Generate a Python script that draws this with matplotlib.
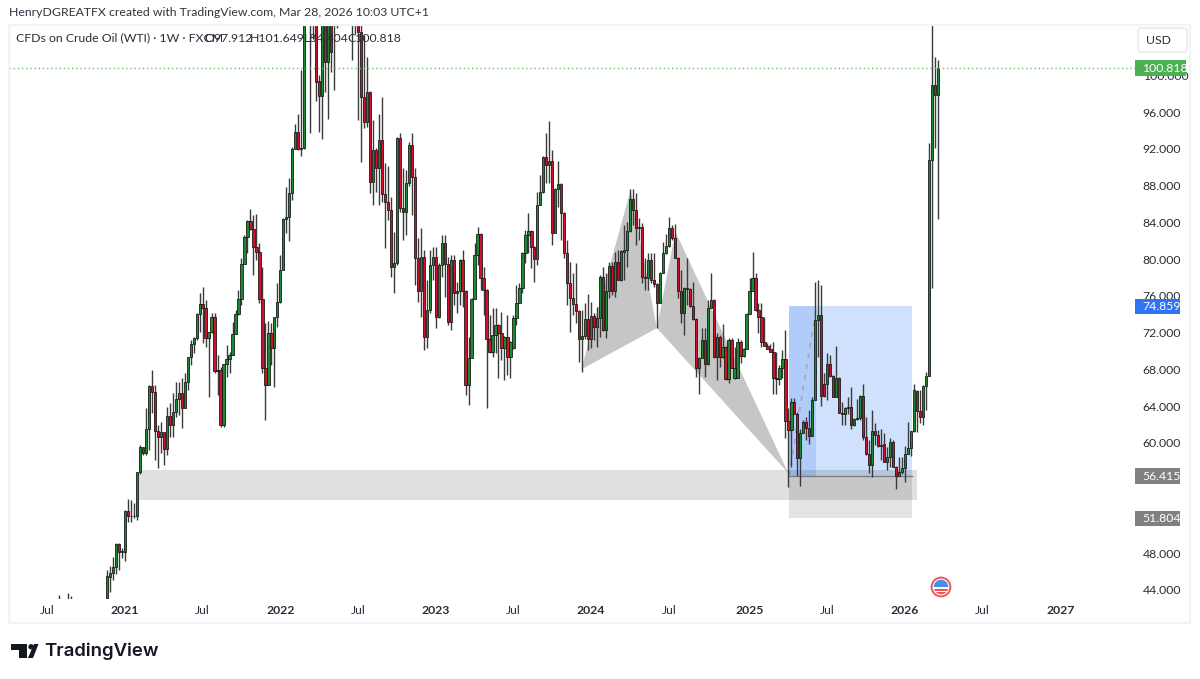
"""CFDs on Crude Oil (WTI) weekly candles, TradingView snapshot look."""
import matplotlib

matplotlib.use("Agg")
import matplotlib.pyplot as plt
import numpy as np
from matplotlib.patches import Circle, FancyBboxPatch, Polygon, Rectangle

plt.rcParams["font.family"] = ["Lato", "DejaVu Sans"]

# weekly candles, first one is the week of 2020-11-23. Values above the
# top of the pane (2022 spike) are only rough, they get clipped anyway.
opens = [
    43.1, 45.4, 45.9, 46.5, 49.0, 48.1, 48.1, 52.6, 52.0, 52.1,
    52.0, 56.8, 59.6, 58.9, 61.5, 66.2, 65.5, 61.3, 60.6, 61.2,
    59.3, 62.9, 61.9, 63.4, 64.8, 65.4, 63.8, 66.6, 69.4, 70.8,
    71.4, 74.0, 75.1, 74.7, 71.4, 72.1, 73.7, 67.9, 67.9, 61.9,
    68.6, 69.1, 69.6, 71.9, 74.0, 75.7, 79.5, 82.4, 84.2, 83.3,
    81.3, 80.8, 75.7, 68.2, 66.3, 72.0, 70.3, 73.7, 75.3, 78.8,
    84.4, 84.6, 87.2, 92.0, 93.8, 92.0, 92.1, 108, 125, 118,
    110, 99.4, 97.8, 108, 101.5, 107, 112, 112, 112, 118,
    114, 110, 115, 110, 108, 104.7, 97.6, 94.9, 98.2, 88.4,
    91.9, 89.9, 93.0, 87.1, 86.2, 85.4, 79.1, 79.6, 93.2, 85.6,
    85.1, 88.3, 92.4, 88.9, 80.1, 76.5, 80.2, 71.5, 74.5, 79.4,
    80.2, 73.7, 79.4, 81.8, 79.5, 73.2, 79.9, 76.5, 76.5, 79.9,
    76.5, 66.3, 69.2, 75.7, 80.5, 82.7, 78.0, 76.6, 71.3, 69.9,
    71.8, 72.8, 72.0, 70.3, 71.5, 69.4, 70.3, 73.6, 75.2, 76.9,
    80.7, 82.6, 83.1, 81.3, 80.0, 85.9, 87.3, 91.1, 90.2, 90.7,
    82.8, 87.6, 88.2, 85.0, 80.7, 77.4, 75.8, 75.1, 74.4, 71.3,
    71.6, 73.5, 71.3, 73.8, 72.6, 73.6, 78.1, 72.3, 76.5, 79.3,
    76.5, 79.7, 77.7, 80.8, 81.0, 83.1, 86.6, 85.4, 83.4, 83.5,
    78.1, 78.0, 79.9, 77.7, 77.3, 75.2, 78.5, 80.7, 81.4, 83.4,
    82.3, 80.1, 76.5, 74.1, 76.9, 76.7, 74.9, 73.5, 68.2, 69.2,
    71.2, 68.6, 74.7, 75.6, 69.4, 71.5, 69.4, 70.4, 67.0, 71.2,
    67.1, 67.1, 71.0, 69.5, 70.2, 74.0, 76.5, 77.9, 74.5, 73.7,
    71.0, 70.6, 70.2, 69.9, 67.1, 67.0, 68.2, 69.1, 62.4, 61.4,
    64.5, 63.2, 58.4, 61.1, 62.3, 61.6, 60.8, 64.7, 73.4, 73.9,
    66.4, 66.4, 68.6, 67.3, 65.0, 67.1, 63.3, 63.2, 63.8, 63.9,
    61.9, 62.6, 62.7, 65.1, 60.6, 58.8, 57.6, 61.3, 60.9, 59.8,
    59.9, 57.9, 58.5, 60.1, 57.4, 56.4, 56.8, 57.3, 58.8, 59.4,
    61.3, 65.7, 63.5, 62.8, 66.2, 67.3, 90.8, 99.0, 97.912,
]
closes = [
    45.5, 45.9, 46.5, 49.0, 48.1, 48.2, 52.6, 52.1, 52.1, 52.0,
    56.8, 59.6, 58.9, 61.5, 66.2, 65.5, 61.3, 60.6, 61.2, 59.3,
    62.9, 61.9, 63.4, 64.8, 65.4, 63.8, 66.6, 69.4, 70.8, 71.4,
    74.0, 75.1, 74.7, 71.4, 72.1, 73.7, 67.8, 67.8, 61.9, 68.6,
    69.1, 69.6, 71.9, 74.0, 75.7, 79.5, 82.4, 84.2, 83.3, 81.3,
    80.8, 75.7, 68.2, 66.3, 72.0, 70.3, 73.7, 75.3, 78.8, 84.4,
    84.6, 87.2, 92.0, 93.8, 92.0, 92.1, 108, 125, 118, 110,
    99.3, 97.8, 108, 101.5, 107, 102.5, 108, 110, 118, 114,
    110, 116, 110, 107, 104.7, 97.6, 94.9, 98.2, 88.4, 91.9,
    89.9, 93.0, 87.1, 86.2, 85.4, 79.1, 79.6, 93.2, 85.6, 85.1,
    88.3, 92.4, 88.9, 80.1, 76.5, 80.2, 71.5, 74.5, 79.4, 80.2,
    73.7, 79.4, 81.8, 79.5, 73.2, 79.9, 76.3, 76.3, 79.9, 76.5,
    66.3, 69.2, 75.7, 80.5, 82.7, 78.0, 76.6, 71.3, 69.9, 71.8,
    72.8, 72.0, 70.3, 71.5, 69.4, 71.0, 73.6, 75.2, 76.9, 80.7,
    82.6, 83.1, 81.3, 80.0, 85.9, 87.3, 91.1, 90.2, 90.7, 82.8,
    87.6, 88.2, 85.0, 80.7, 77.4, 75.8, 75.1, 74.4, 71.3, 71.6,
    73.5, 71.3, 73.8, 72.6, 73.6, 78.1, 72.3, 76.5, 79.3, 76.5,
    79.7, 77.7, 80.9, 81.0, 83.1, 86.6, 85.4, 83.4, 83.5, 78.1,
    78.0, 79.9, 77.7, 77.3, 75.2, 78.5, 80.7, 81.4, 83.4, 82.3,
    80.1, 76.5, 74.1, 76.9, 76.7, 74.9, 73.5, 68.2, 69.2, 71.2,
    68.6, 74.7, 75.6, 69.4, 71.5, 69.4, 70.4, 67.0, 71.2, 68.2,
    68.2, 71.0, 69.5, 70.2, 74.0, 76.5, 77.9, 74.5, 73.7, 71.0,
    70.6, 70.2, 69.9, 67.1, 67.0, 68.2, 69.1, 62.4, 61.4, 64.5,
    63.2, 58.4, 61.1, 62.3, 61.6, 60.8, 64.7, 73.4, 73.9, 65.1,
    65.1, 68.6, 67.3, 65.0, 67.1, 63.3, 63.2, 63.8, 63.9, 61.9,
    62.6, 62.7, 65.1, 60.6, 58.8, 57.6, 61.3, 60.9, 59.7, 59.7,
    57.9, 58.5, 60.1, 57.4, 56.4, 56.8, 57.3, 58.8, 59.4, 61.3,
    65.8, 63.5, 62.8, 66.2, 67.3, 90.8, 99.0, 97.9, 100.818,
]
highs = [
    46.2, 46.6, 47.6, 49.1, 49.1, 48.6, 52.7, 53.9, 53.8, 53.5,
    56.8, 59.8, 59.6, 63.8, 66.3, 67.9, 66.3, 62.0, 62.3, 61.2,
    63.9, 64.4, 65.4, 66.6, 66.6, 67.1, 67.6, 69.4, 71.2, 71.5,
    74.1, 76.3, 77.0, 75.6, 72.1, 74.1, 74.1, 69.6, 68.3, 68.6,
    70.7, 69.9, 73.2, 74.5, 76.6, 80.1, 82.6, 84.3, 85.5, 84.8,
    84.9, 81.8, 79.1, 73.1, 73.3, 73.1, 73.7, 77.4, 80.5, 84.5,
    87.9, 88.8, 92.2, 94.7, 95.8, 100.6, 112, 130, 130, 122,
    112, 100, 112, 110, 110, 110, 115, 115, 120, 120,
    118, 118, 118, 115, 110, 105.5, 104.4, 102, 98.3, 95.1,
    92.1, 95.8, 97.6, 90.5, 90.1, 86.8, 83.0, 93.3, 93.7, 89.9,
    89.7, 92.8, 93.7, 89.9, 82.3, 83.4, 81.0, 77.7, 81.0, 81.3,
    81.3, 79.6, 82.6, 82.6, 80.2, 80.5, 80.5, 77.5, 80.0, 81.0,
    76.6, 71.5, 75.8, 81.8, 83.5, 82.8, 79.1, 76.7, 73.9, 74.7,
    74.7, 72.9, 74.2, 71.6, 73.9, 71.1, 73.9, 77.2, 77.4, 80.8,
    83.2, 85.0, 83.2, 81.4, 87.3, 89.2, 91.2, 93.7, 95.0, 91.9,
    87.7, 90.7, 88.3, 85.1, 82.1, 79.7, 78.5, 79.6, 74.5, 74.5,
    75.2, 76.2, 75.3, 74.1, 74.8, 78.3, 79.2, 78.5, 79.7, 79.7,
    80.8, 81.0, 81.0, 83.7, 84.0, 87.6, 87.6, 87.2, 84.5, 83.9,
    80.1, 80.7, 80.7, 80.7, 77.4, 78.6, 81.9, 82.7, 84.6, 83.7,
    83.8, 80.2, 78.8, 77.0, 80.1, 76.9, 77.5, 73.6, 69.3, 72.5,
    72.5, 75.6, 78.5, 75.7, 72.0, 71.8, 72.9, 70.5, 71.4, 71.4,
    70.4, 71.4, 71.2, 70.3, 74.1, 78.0, 80.8, 78.5, 75.2, 75.2,
    73.7, 70.9, 70.8, 71.0, 69.9, 68.5, 70.1, 72.3, 63.8, 64.9,
    64.9, 63.4, 61.5, 62.5, 62.8, 63.6, 65.0, 77.5, 77.7, 77.2,
    67.6, 69.8, 69.6, 67.4, 70.6, 67.2, 64.5, 63.9, 65.0, 66.1,
    62.7, 64.8, 65.2, 66.4, 62.8, 60.3, 63.6, 62.2, 61.4, 61.5,
    61.1, 59.6, 60.5, 60.3, 57.5, 58.5, 58.5, 59.7, 62.3, 61.3,
    66.4, 65.8, 65.8, 66.3, 67.7, 92.6, 106, 102, 101.649,
]
lows = [
    43.0, 43.8, 45.1, 45.7, 46.2, 47.5, 47.2, 51.4, 51.4, 51.8,
    51.6, 56.6, 58.7, 58.7, 59.2, 63.3, 58.2, 57.3, 58.9, 57.6,
    58.7, 60.6, 60.6, 62.8, 63.0, 61.6, 63.8, 65.8, 68.5, 69.8,
    71.2, 72.1, 70.9, 70.4, 65.0, 72.0, 67.6, 65.2, 61.7, 61.7,
    67.2, 67.6, 69.6, 71.9, 73.9, 75.0, 79.5, 80.7, 83.2, 78.3,
    79.9, 75.2, 67.6, 62.5, 66.3, 68.5, 66.1, 72.6, 75.2, 78.8,
    82.8, 82.0, 86.4, 92.0, 91.9, 91.2, 92.0, 106, 93.7, 104,
    97.2, 93.8, 93.1, 98.2, 95.3, 100.4, 98.4, 105.2, 106.5, 107,
    106.5, 106.5, 101.7, 104.5, 95.1, 90.6, 94.3, 94.4, 87.2, 85.9,
    87.3, 85.9, 86.2, 81.2, 84.3, 78.1, 76.3, 79.4, 85.1, 82.1,
    82.6, 88.0, 84.8, 77.2, 75.3, 73.7, 70.1, 70.3, 74.1, 77.7,
    72.5, 73.6, 78.1, 75.9, 72.8, 72.3, 75.0, 74.1, 75.0, 74.8,
    65.2, 64.1, 69.2, 75.7, 79.4, 76.6, 73.9, 63.8, 69.8, 69.4,
    69.8, 67.1, 69.0, 66.9, 67.4, 67.1, 70.2, 72.8, 75.2, 76.3,
    79.6, 80.7, 79.0, 77.5, 79.4, 85.9, 87.2, 88.3, 88.3, 81.5,
    82.8, 85.7, 82.1, 80.1, 75.0, 72.1, 73.9, 73.1, 68.8, 67.7,
    71.3, 70.1, 70.3, 71.2, 70.4, 71.5, 72.2, 71.4, 75.8, 76.1,
    75.9, 77.7, 77.6, 77.7, 79.2, 83.0, 83.7, 81.5, 82.1, 77.4,
    76.6, 76.6, 77.4, 77.0, 72.5, 75.2, 78.5, 80.6, 81.3, 82.1,
    80.1, 75.8, 73.1, 71.8, 75.0, 74.8, 73.4, 67.2, 65.3, 69.2,
    67.2, 68.5, 74.7, 69.2, 66.9, 68.3, 69.2, 66.9, 66.5, 68.2,
    67.0, 67.1, 68.7, 69.4, 70.2, 74.0, 76.5, 74.4, 72.0, 70.4,
    70.5, 70.2, 69.9, 65.3, 65.3, 66.3, 67.1, 60.5, 55.2, 57.4,
    63.1, 56.4, 55.3, 61.1, 60.3, 59.9, 60.8, 64.7, 69.4, 64.0,
    65.0, 64.7, 67.2, 65.0, 65.0, 63.3, 62.0, 62.0, 63.2, 61.5,
    61.8, 62.5, 62.5, 60.3, 58.7, 56.7, 56.3, 59.8, 59.6, 58.2,
    57.9, 57.1, 57.4, 57.4, 55.0, 56.4, 56.6, 55.8, 58.8, 58.6,
    61.2, 61.2, 62.2, 62.0, 63.6, 67.3, 76.9, 92.1, 84.404,
]
# only the wick tips of these older weeks reach into the pane
early_weeks = [-16, -13, -12]
early_highs = [43.5, 43.7, 43.3]

time_ticks = [-20, 6, 32, 58, 84, 110, 136, 162, 188, 215, 241, 267, 293, 319]
time_labels = ["Jul", "2021", "Jul", "2022", "Jul", "2023", "Jul", "2024",
               "Jul", "2025", "Jul", "2026", "Jul", "2027"]
price_ticks = [44, 48, 60, 64, 68, 72, 76, 80, 84, 88, 92, 96, 100]

# harmonic pattern points, (week, price)
xab_week = [158.7, 175.2, 184.0]
xab_price = [68.0, 87.5, 72.5]
bcd_week = [184.0, 190.2, 228.0]
bcd_price = [72.5, 83.0, 56.7]

# long position tool and the demand zone
pos_start, pos_mid, pos_end = 228.2, 237.2, 269.4
entry, target, stop = 56.415, 74.859, 51.804
last_close = 100.818
zone_start, zone_end = 10.7, 271.0
zone_low, zone_high = 53.79, 57.06

# (value, box colour, box width in pixels)
price_boxes = [(100.818, "#4caf50", 51), (74.859, "#2f74f2", 45),
               (56.415, "#808080", 45), (51.804, "#808080", 45)]

W, H = 1200, 679
PX_PER_WEEK = 2.9885
FIRST_X = 107.0
GREEN, RED = "#1a8a30", "#d0112e"
TEXT = "#2a2e39"

fig = plt.figure(figsize=(W / 100, H / 100), dpi=100, facecolor="white")
# pixel overlay for the frame and the furniture of the screenshot
over = fig.add_axes([0, 0, 1, 1], zorder=3)
over.set_xlim(0, W)
over.set_ylim(H, 0)
over.axis("off")
over.patch.set_alpha(0)

pane_left, pane_right, pane_top, pane_bottom = 9, 1137, 25, 599
ax = fig.add_axes([pane_left / W, 1 - pane_bottom / H,
                   (pane_right - pane_left) / W,
                   (pane_bottom - pane_top) / H], zorder=2)
ax.set_xlim((pane_left - FIRST_X) / PX_PER_WEEK, (pane_right - FIRST_X) / PX_PER_WEEK)
ax.set_ylim(44 - (pane_bottom - 590) / 9.19, 44 + (590 - pane_top) / 9.19)
for s in ax.spines.values():
    s.set_visible(False)

# drawings under the candles
ax.add_patch(Polygon(list(zip(xab_week, xab_price)), color="#c6c6c6", lw=0, zorder=1))
ax.add_patch(Polygon(list(zip(bcd_week, bcd_price)), color="#c6c6c6", lw=0, zorder=1))
ax.add_patch(Rectangle((pos_start, entry), pos_end - pos_start, target - entry,
                       color="#d0e1fd", lw=0, zorder=1.1))
ax.add_patch(Rectangle((pos_start, entry), pos_mid - pos_start, target - entry,
                       color="#b1ccfb", lw=0, zorder=1.2))
ax.add_patch(Rectangle((pos_start, stop), pos_end - pos_start, entry - stop,
                       color="#e3e3e3", lw=0, zorder=1.1))
ax.plot([pos_start, pos_mid], [entry, target - 0.4], color="#a8a8a8", lw=1.2,
        ls=(0, (3, 3.5)), zorder=1.3)
ax.add_patch(Rectangle((zone_start, zone_low), zone_end - zone_start,
                       zone_high - zone_low, color="black", alpha=0.12, lw=0,
                       zorder=1.4))
ax.plot([pos_start, pos_end], [entry, entry], color="#7f7f7f", lw=1, zorder=1.5)

# candles
weeks = np.arange(len(opens))
o, c, h, l = map(np.array, (opens, closes, highs, lows))
up = c >= o
ax.vlines(weeks, l, h, color="#3a3a3a", lw=1.0, zorder=2)
ax.vlines(early_weeks, 40, early_highs, color="#3a3a3a", lw=1.0, zorder=2)
bars = ax.bar(weeks, np.abs(c - o), bottom=np.minimum(o, c), width=0.76,
              color=np.where(up, GREEN, RED), edgecolor="#111111", linewidth=0.55,
              zorder=3)

ax.axhline(last_close, color="#6cc070", lw=1, ls=(0, (1, 2)), zorder=4)

# axes text
ax.set_xticks(time_ticks)
ax.set_xticklabels(time_labels, fontsize=8.8, color=TEXT)
for lab, txt in zip(ax.get_xticklabels(), time_labels):
    if txt.isdigit():
        lab.set_fontweight("bold")
ax.tick_params(axis="x", length=0, pad=4.5)
ax.yaxis.tick_right()
ax.set_yticks(price_ticks)
ax.set_yticklabels([f"{v:.3f}" for v in price_ticks], fontsize=8.8, color=TEXT)
ax.tick_params(axis="y", length=0, pad=4)

# frame
over.add_patch(Rectangle((8.5, 24.5), 1181, 598.5, fill=False, ec="#f2f3f6", lw=1.6))

# header lines
over.text(9, 13, "HenryDGREATFX created with TradingView.com, Mar 28, 2026 10:03 UTC+1",
          fontsize=8.8, color="#30343f", va="center")
over.text(16, 38, "CFDs on Crude Oil (WTI) · 1W · FXCM", fontsize=8.8,
          color=TEXT, va="center")
over.text(204, 38, "O97.912", fontsize=8.8, color=TEXT, va="center")
over.text(250, 38, "H101.649", fontsize=8.8, color=TEXT, va="center")
over.text(304, 38, "L84.404", fontsize=8.8, color=TEXT, va="center")
over.text(347, 38, "C100.818", fontsize=8.8, color=TEXT, va="center")

# currency button
over.add_patch(FancyBboxPatch((1140, 30), 45, 20, boxstyle="round,pad=2,rounding_size=3",
                              fc="white", ec="#e6e7ea", lw=1))
over.text(1146, 40.5, "USD", fontsize=8.8, color=TEXT, va="center")

# price labels on the scale
for value, colour, width in price_boxes:
    _, py = over.transData.inverted().transform(ax.transData.transform((0, value)))
    over.add_patch(Rectangle((1135, py - 7.7), width, 15.4, color=colour, lw=0, zorder=5))
    over.text(1142, py + 0.2, f"{value:.3f}", fontsize=8.8, color="white",
              va="center", zorder=6)

# US flag event marker
cx, cy = 941, 587
over.add_patch(Circle((cx, cy), 9.4, fc="white", ec="#f0535d", lw=1.4))
inner = Circle((cx, cy), 7.3, transform=over.transData)
for x0, y0, wd, ht, colour in [(cx - 8, cy - 8, 16, 8, "#4a90e2"),
                               (cx - 8, cy + 1.5, 16, 2, "#f0535d"),
                               (cx - 8, cy + 5, 16, 4, "#f0535d")]:
    r = Rectangle((x0, y0), wd, ht, color=colour, lw=0)
    over.add_patch(r)
    r.set_clip_path(inner)

# logo
logo = "#131722"
over.add_patch(Polygon([(11, 644), (27, 644), (27, 658), (18.5, 658), (18.5, 650), (11, 650)],
                       color=logo, lw=0))
over.add_patch(Circle((31, 646.8), 2.7, color=logo, lw=0))
over.add_patch(Polygon([(34, 644), (38.5, 644), (33, 658), (28, 658)], color=logo, lw=0))
over.text(44.5, 651.5, "TradingView", fontsize=13.4, fontweight="semibold",
          family=["Inter", "DejaVu Sans"], color=logo, va="center")

fig.savefig("out.png", dpi=100)
